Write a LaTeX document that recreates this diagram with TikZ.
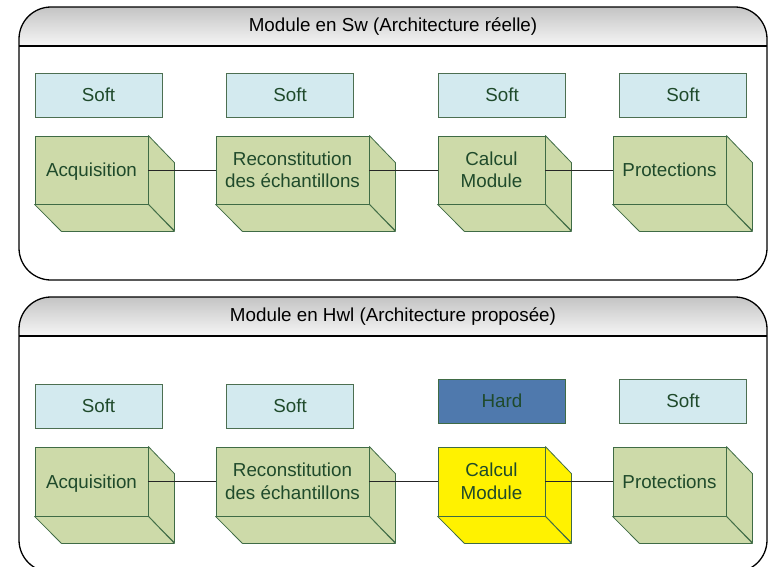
\documentclass[tikz,border=0pt]{standalone}
\usepackage{fontspec}
\setmainfont{Liberation Sans}
\definecolor{softfill}{HTML}{D3EAEF}
\definecolor{cubefill}{HTML}{CDDAA9}
\definecolor{cubeline}{HTML}{3F6B45}
\definecolor{txtgreen}{HTML}{1F4A2B}
\definecolor{hardfill}{HTML}{4F79AD}
\definecolor{hdrtop}{HTML}{C4C4C4}
\definecolor{hdrbot}{HTML}{F6F6F6}
\newcommand\onel[1]{\raisebox{0pt}[13.5pt][0pt]{#1}}
\begin{document}
\begin{tikzpicture}[x=1pt,y=-1pt,
  lbl/.style={font=\fontsize{18.8}{22.5}\selectfont, text=txtgreen, align=center},
  softbox/.style={lbl, draw=cubeline!80!gray, fill=softfill, line width=0.8pt, minimum width=127pt, minimum height=44pt, inner sep=0pt},
  hardbox/.style={softbox, fill=hardfill, draw=cubeline},
  cubefront/.style={lbl, draw=cubeline, line width=0.8pt, inner sep=0pt},
  link/.style={draw=black!85, line width=0.8pt},
  framebox/.style={draw=black, line width=1.3pt},
  title/.style={font=\fontsize{18.8}{22.5}\selectfont, text=black}
]
\useasboundingbox (0,0) rectangle (768,566);
\fill[white] (0,0) rectangle (768,566);

% cube macro: name, x1, y1, x2, y2, fill, text
\newcommand\mycube[7]{%
  \node[cubefront, fill=#6, minimum width={#4-#2}, minimum height={#5-#3}] (#1) at ({(#2+#4)/2},{(#3+#5)/2}) {#7};
  \fill[#6, draw=cubeline, line width=0.8pt, line join=round]
    (#1.north east) -- ++(26,27) -- ++(0,{#5-#3}) -- (#1.south east) -- cycle;
  \fill[#6, draw=cubeline, line width=0.8pt, line join=round]
    (#1.south west) -- (#1.south east) -- ++(26,27) -- ++({-(#4-#2)},0) -- cycle;
}

% frame macro: top y, bottom y, header y, title, name
\newcommand\myframe[5]{%
  \begin{scope}
    \clip[rounded corners=32pt] (19,#1) rectangle (767,#2);
    \shade[top color=hdrtop, bottom color=hdrbot] (19,#1) rectangle (767,#3);
  \end{scope}
  \draw[framebox, rounded corners=32pt] (19,#1) rectangle (767,#2);
  \coordinate (#5l) at (19,#3);
  \coordinate (#5r) at (767,#3);
  \draw[framebox] (#5l) -- (#5r);
  \node[title] (#5t) at (393,{(#1+#3)/2}) {#4};
}

% ---------- top frame ----------
\myframe{7}{280}{46}{Module en Sw (Architecture réelle)}{fa}

\node[softbox] (s1) at (98.5,95) {Soft};
\node[softbox] (s2) at (290,95) {Soft};
\node[softbox] (s3) at (502,95) {Soft};
\node[softbox] (s4) at (683,95) {Soft};

\mycube{a1}{35}{136}{148}{204}{cubefill}{\onel{Acquisition}}
\mycube{a2}{216}{136}{369}{204}{cubefill}{Reconstitution\\des échantillons}
\mycube{a3}{438}{136}{545}{204}{cubefill}{Calcul\\Module}
\mycube{a4}{613}{136}{726}{204}{cubefill}{\onel{Protections}}

\draw[link] (a1.east) -- (a2.west);
\draw[link] (a2.east) -- (a3.west);
\draw[link] (a3.east) -- (a4.west);

% ---------- bottom frame ----------
\myframe{297}{572}{336}{Module en Hwl (Architecture proposée)}{fb}

\node[softbox] (t1) at (98.5,406) {Soft};
\node[softbox] (t2) at (290,406) {Soft};
\node[hardbox] (t3) at (502,401) {Hard};
\node[softbox] (t4) at (683,401) {Soft};

\mycube{b1}{35}{447}{148}{516}{cubefill}{\onel{Acquisition}}
\mycube{b2}{216}{447}{369}{516}{cubefill}{Reconstitution\\des échantillons}
\mycube{b3}{438}{447}{545}{516}{yellow}{Calcul\\Module}
\mycube{b4}{613}{447}{726}{516}{cubefill}{\onel{Protections}}

\draw[link] (b1.east) -- (b2.west);
\draw[link] (b2.east) -- (b3.west);
\draw[link] (b3.east) -- (b4.west);
\end{tikzpicture}
\end{document}
